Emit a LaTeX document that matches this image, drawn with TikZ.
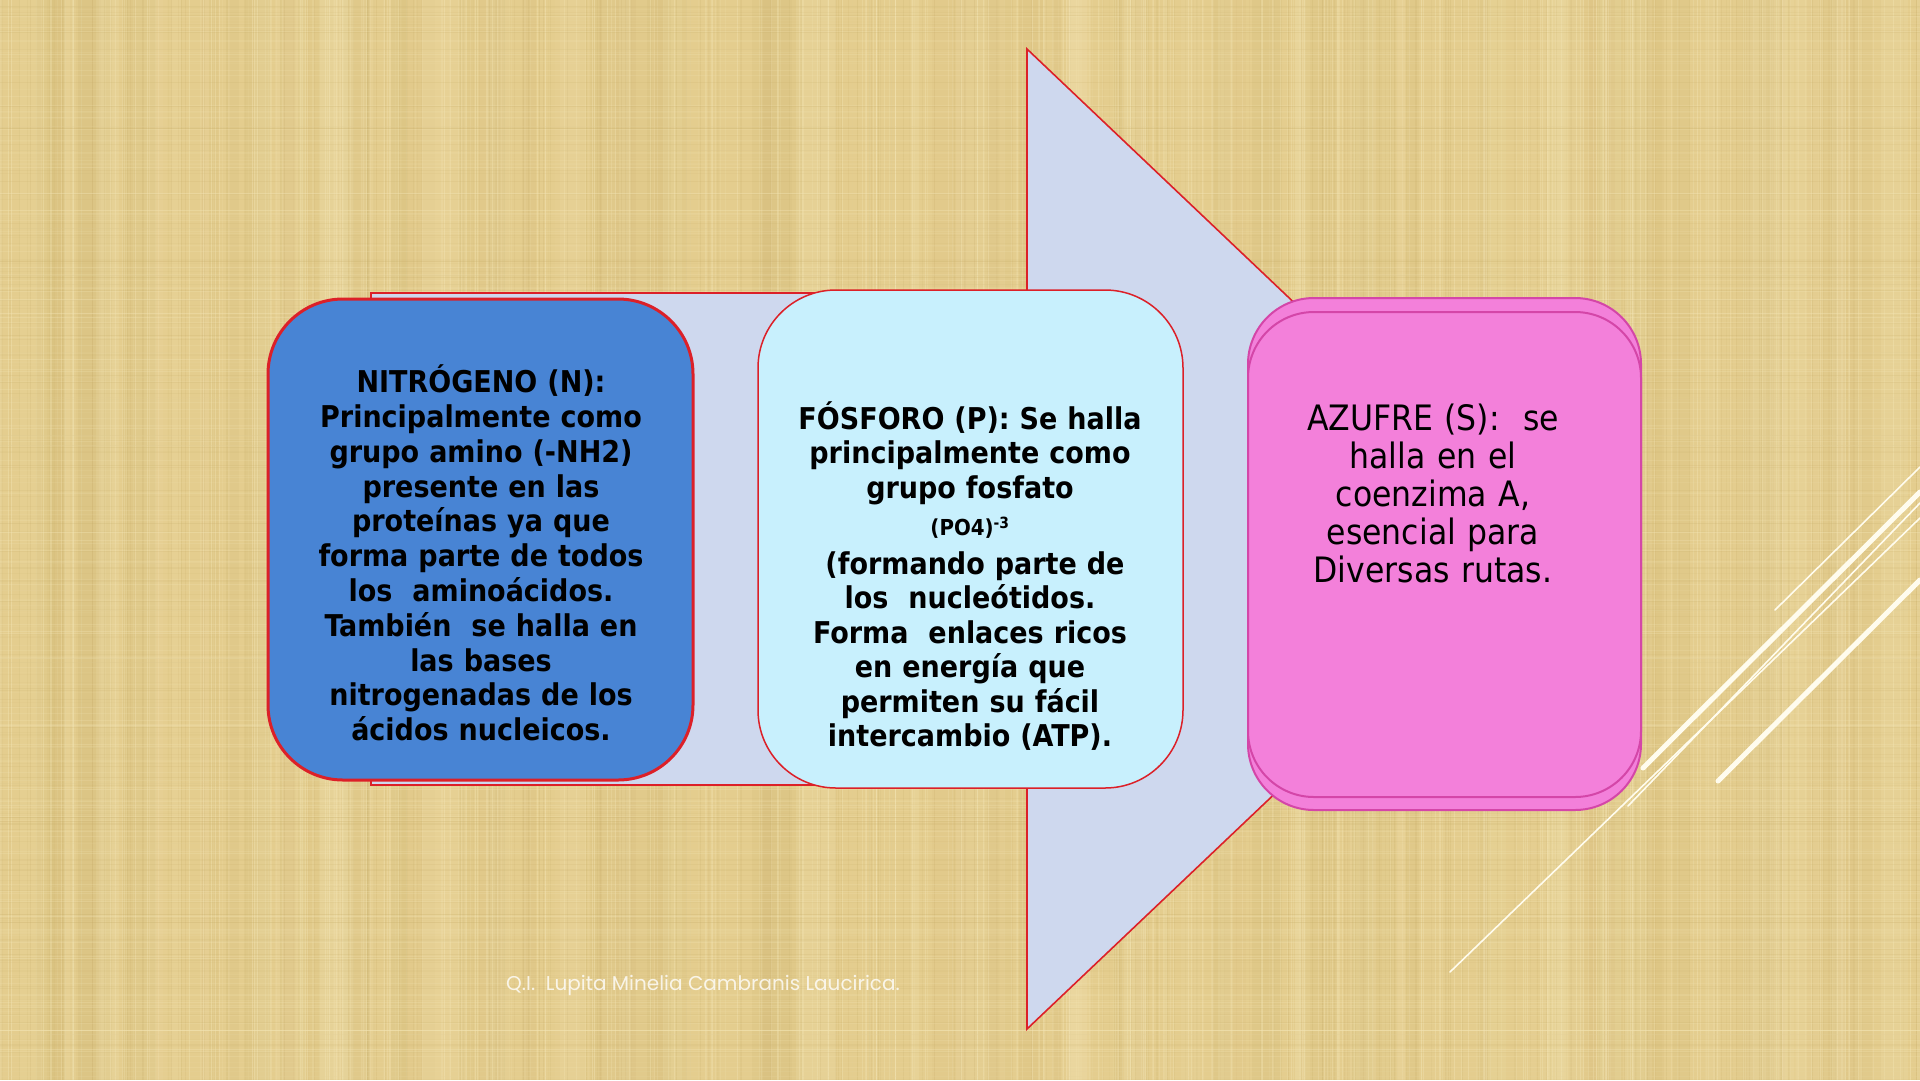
\documentclass[tikz,border=0pt]{standalone}
\usepackage{fontspec}
\setmainfont{DejaVu Sans Condensed}
\newfontfamily\wmfont{Poppins}
\definecolor{bgtan}{RGB}{228,205,142}
\definecolor{bglight}{RGB}{244,230,182}
\definecolor{bgdark}{RGB}{196,170,100}
\definecolor{arrowfill}{RGB}{206,216,238}
\definecolor{redline}{RGB}{220,32,40}
\definecolor{boxblue}{RGB}{72,132,212}
\definecolor{boxcyan}{RGB}{200,240,253}
\definecolor{boxpink}{RGB}{243,128,218}
\definecolor{pinkline}{RGB}{212,70,168}
\definecolor{cream}{RGB}{255,252,238}
\tikzset{
  bluebox/.style={draw=redline, line width=3pt, fill=boxblue, rounded corners=75pt},
  cyanbox/.style={draw=redline, line width=1.5pt, fill=boxcyan, rounded corners=78pt},
  pinkbox/.style={draw=pinkline, line width=2pt, fill=boxpink, rounded corners=66pt},
  bigarrow/.style={draw=redline, line width=1.6pt, fill=arrowfill, line join=miter},
  txt/.style={align=center, text=black, inner sep=0pt, text width=420pt},
  thinline/.style={draw=cream, line width=1.6pt, line cap=round},
  thickline/.style={draw=cream, line width=5pt, line cap=round},
}
\begin{document}
\begin{tikzpicture}[x=1pt,y=-1pt]
\useasboundingbox (0,0) rectangle (1920,1080);
% background
\fill[bgtan] (0,0) rectangle (1920,1080);
\pgfmathsetseed{17}
\foreach \i in {1,...,60}{
  \pgfmathsetmacro\xx{rnd*1920}
  \pgfmathsetmacro\ww{8+rnd*30}
  \pgfmathsetmacro\op{0.04+rnd*0.10}
  \fill[bgdark, opacity=\op] (\xx,0) rectangle ++(\ww,1080);
}
\foreach \i in {1,...,60}{
  \pgfmathsetmacro\xx{rnd*1920}
  \pgfmathsetmacro\ww{6+rnd*25}
  \pgfmathsetmacro\op{0.06+rnd*0.14}
  \fill[bglight, opacity=\op] (\xx,0) rectangle ++(\ww,1080);
}
\foreach \i in {1,...,400}{
  \pgfmathsetmacro\xx{rnd*1920}
  \pgfmathsetmacro\op{0.1+rnd*0.3}
  \draw[bglight, line width=1pt, opacity=\op] (\xx,0) -- (\xx,1080);
}
\foreach \i in {1,...,250}{
  \pgfmathsetmacro\xx{rnd*1920}
  \pgfmathsetmacro\op{0.05+rnd*0.15}
  \draw[bgdark, line width=0.8pt, opacity=\op] (\xx,0) -- (\xx,1080);
}
\foreach \i in {1,...,250}{
  \pgfmathsetmacro\yy{rnd*1080}
  \pgfmathsetmacro\op{0.06+rnd*0.2}
  \draw[bglight, line width=1pt, opacity=\op] (0,\yy) -- (1920,\yy);
}
\foreach \i in {1,...,180}{
  \pgfmathsetmacro\yy{rnd*1080}
  \pgfmathsetmacro\op{0.04+rnd*0.12}
  \draw[bgdark, line width=0.8pt, opacity=\op] (0,\yy) -- (1920,\yy);
}
% big arrow
\draw[bigarrow] (371,293) -- (1027,293) -- (1027,49) -- (1543,539) -- (1027,1029) -- (1027,785) -- (371,785) -- cycle;
% boxes
\node[bluebox, minimum width=425pt, minimum height=481pt, inner sep=0pt] (nbox) at (480.5,539.5) {};
\node[cyanbox, minimum width=425pt, minimum height=498pt, inner sep=0pt] (pbox) at (970.5,539) {};
\node[pinkbox, minimum width=393pt, minimum height=512pt, inner sep=0pt] (sback) at (1444.5,554) {};
\node[pinkbox, minimum width=393pt, minimum height=485pt, inner sep=0pt] (sbox) at (1444.5,554.5) {};
% texts
\node[txt, font=\bfseries\fontsize{30}{34.8}\selectfont] (ntext) at (481,553) {NITRÓGENO (N):\\Principalmente como\\grupo amino (-NH2)\\presente en las\\proteínas ya que\\forma parte de todos\\los~ aminoácidos.\\También~ se halla en\\las bases\\nitrogenadas de los\\ácidos nucleicos.};
\node[txt, font=\bfseries\fontsize{30}{34.5}\selectfont] (ptext) at (970,576) {FÓSFORO (P): Se halla\\principalmente como\\grupo fosfato\\[3pt]{\fontsize{22}{24}\selectfont (PO4)\textsuperscript{-3}}\\[4pt]\hspace{10pt}(formando parte de\\los~ nucleótidos.\\Forma~ enlaces ricos\\en energía que\\permiten su fácil\\intercambio (ATP).};
\node[txt, font=\fontsize{35}{38}\selectfont] (stext) at (1433,493) {AZUFRE (S):~ se\\halla en el\\coenzima A,\\esencial para\\Diversas rutas.};
% decorative lines
\coordinate (a1) at (1775,610); \coordinate (a2) at (1920,467);
\coordinate (b1) at (1643,768); \coordinate (b2) at (1920,492);
\coordinate (c1) at (1628,806); \coordinate (c2) at (1920,503);
\coordinate (e1) at (1450,972); \coordinate (e2) at (1920,518);
\coordinate (f1) at (1718,781); \coordinate (f2) at (1920,580);
\draw[thinline] (a1) -- (a2);
\draw[thickline] (b1) -- (b2);
\draw[thinline] (c1) -- (c2);
\draw[thinline] (e1) -- (e2);
\draw[thickline] (f1) -- (f2);
% watermark
\node[anchor=west, inner sep=0pt, text=white, opacity=0.8, font=\wmfont\fontsize{20}{22}\selectfont] (wm) at (506,985) {Q.I.~ Lupita Minelia Cambranis Laucirica.};
\end{tikzpicture}
\end{document}
